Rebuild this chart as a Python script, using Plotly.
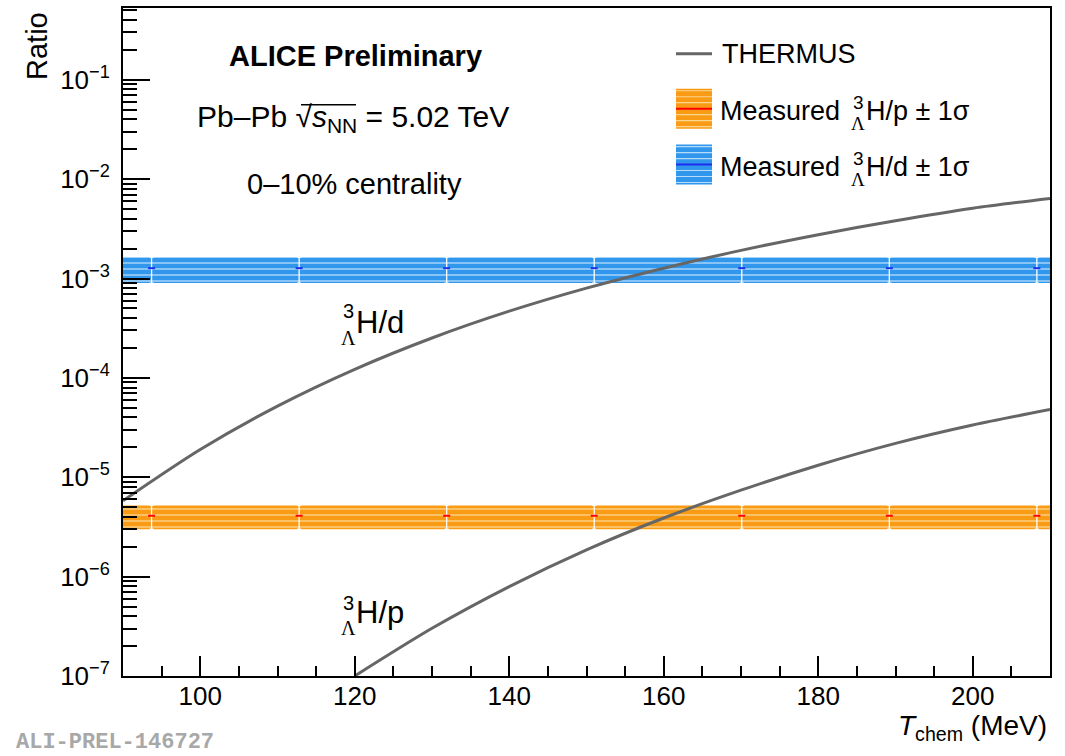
import plotly.graph_objects as go

# THERMUS predictions of the hypertriton ratios versus chemical freeze-out temperature
t_thermus_hd = [90, 100, 110, 120, 130, 140, 150, 160, 170, 180, 190, 200, 210]
ratio_thermus_hd = [5.8e-6, 1.9e-5, 5.2e-5, 1.22e-4, 2.52e-4, 4.69e-4, 8.0e-4,
                    1.27e-3, 1.92e-3, 2.76e-3, 3.82e-3, 5.1e-3, 6.4e-3]

t_thermus_hp = [120, 130, 140, 150, 160, 170, 180, 190, 200, 210]
ratio_thermus_hp = [1.0e-7, 3.02e-7, 7.94e-7, 1.86e-6, 3.89e-6, 7.41e-6,
                    1.32e-5, 2.19e-5, 3.35e-5, 4.8e-5]

# Measured ratios (drawn as horizontal +-1 sigma bands)
t_points = [93.7, 112.8, 131.9, 151.0, 170.1, 189.2, 208.3]
half_bin = 9.55
hp_measured, hp_sigma = 4.1e-6, 1.1e-6
hd_measured, hd_sigma = 1.27e-3, 0.37e-3

y_tick_vals = [1e-7, 1e-6, 1e-5, 1e-4, 1e-3, 1e-2, 1e-1]
y_tick_text = ["10<sup>\u22127</sup>", "10<sup>\u22126</sup>", "10<sup>\u22125</sup>",
               "10<sup>\u22124</sup>", "10<sup>\u22123</sup>", "10<sup>\u22122</sup>",
               "10<sup>\u22121</sup>"]
x_tick_vals = [100, 120, 140, 160, 180, 200]

FONT = "Liberation Sans, Arial, Helvetica, sans-serif"
SERIF = "Liberation Serif, Times New Roman, serif"
GREY = "#666666"
ORANGE, ORANGE_LIGHT, RED = "#F99B14", "#FCD58F", "#FF0000"
BLUE, BLUE_LIGHT, DARKBLUE = "#3197EC", "#B5DBFA", "#1E2EF0"

W, H = 1065, 756
L, R, T, B = 123, 15, 6, 80
PW, PH = W - L - R, H - T - B


def px(x):
    return (x - L) / PW


def py(y):
    return (H - B - y) / PH


fig = go.Figure()


def band(value, sigma, bg, fg, marker_color):
    x0 = t_points[0] - half_bin
    x1 = t_points[-1] + half_bin
    lo, hi = value - sigma, value + sigma
    fig.add_trace(go.Scatter(
        x=[x0, x1, x1, x0, x0], y=[lo, lo, hi, hi, lo],
        mode="lines", fill="toself", line=dict(width=0, color=bg),
        fillcolor=bg,
        fillpattern=dict(shape="-", bgcolor=bg, fgcolor=fg, size=6,
                         solidity=0.22, fillmode="replace"),
        hoverinfo="skip", showlegend=False))
    fig.add_trace(go.Scatter(
        x=t_points, y=[value] * len(t_points), mode="markers",
        marker=dict(symbol="line-ew", size=5,
                    line=dict(color=marker_color, width=2)),
        error_y=dict(type="data", array=[sigma] * len(t_points),
                     color="white", thickness=1.3, width=2),
        hoverinfo="skip", showlegend=False))


band(hd_measured, hd_sigma, BLUE, BLUE_LIGHT, DARKBLUE)
band(hp_measured, hp_sigma, ORANGE, ORANGE_LIGHT, RED)

for tt, rr in ((t_thermus_hd, ratio_thermus_hd), (t_thermus_hp, ratio_thermus_hp)):
    fig.add_trace(go.Scatter(x=tt, y=rr, mode="lines",
                             line=dict(color=GREY, width=3, shape="spline", smoothing=0.8),
                             hoverinfo="skip", showlegend=False))

annotations = []


def text(x, y, s, size, anchor="left", family=FONT, color="black", angle=0, yanchor="middle"):
    annotations.append(dict(x=px(x), y=py(y), xref="paper", yref="paper", text=s,
                            showarrow=False, xanchor=anchor, yanchor=yanchor,
                            textangle=angle,
                            font=dict(size=size, family=family, color=color)))


def hyper(x, y_sup, y_sub, size):
    # stacked "3" over "Lambda" in front of the H
    text(x, y_sup, "3", size, anchor="center")
    text(x, y_sub, "\u039b", size, anchor="center", family=SERIF)


text(355, 54, "<b>ALICE Preliminary</b>", 29, anchor="center")
text(353, 117, "Pb\u2013Pb \u221a<i>s</i><sub>NN</sub> = 5.02 TeV", 30, anchor="center")
text(354, 183, "0\u201310% centrality", 29, anchor="center")

# legend
text(720, 52, "THERMUS", 27)
for row, lab in enumerate(("p", "d")):
    yc = 109 + 56 * row
    text(718, yc, "Measured", 27)
    hyper(858, yc - 8, yc + 13, 19)
    text(864, yc, "H/" + lab + " \u00b1 1\u03c3", 27)

# curve labels
hyper(348, 310, 337, 20)
text(354, 321, "H/d", 31)
hyper(348, 603, 628, 20)
text(354, 612, "H/p", 31)

# axis titles
text(37, 8, "Ratio", 29, anchor="center", angle=-90, yanchor="top")
text(1049, 728, "<i>T</i><sub>chem</sub> (MeV)", 28, anchor="right")
text(14, 743, "<b>ALI-PREL-146727</b>", 22, family="Liberation Mono, Courier New, monospace",
     color="#A8A8A8")

shapes = [
    dict(type="line", xref="paper", yref="paper", x0=px(676), x1=px(712),
         y0=py(52), y1=py(52), line=dict(color=GREY, width=3)),
    # bar over the radicand
    dict(type="line", xref="paper", yref="paper", x0=px(301), x1=px(356),
         y0=py(103), y1=py(103), line=dict(color="black", width=1.5)),
]
for row, (bg, fg, mid) in enumerate(((ORANGE, ORANGE_LIGHT, RED),
                                     (BLUE, BLUE_LIGHT, DARKBLUE))):
    top = 87 + 56 * row
    shapes.append(dict(type="rect", xref="paper", yref="paper", x0=px(676), x1=px(712),
                       y0=py(top + 40), y1=py(top), fillcolor=bg, line=dict(width=0)))
    for k in range(7):
        yy = top + 2 + 6 * k
        if abs(yy - (top + 20)) < 2:
            continue
        shapes.append(dict(type="line", xref="paper", yref="paper", x0=px(676), x1=px(712),
                           y0=py(yy), y1=py(yy), line=dict(color=fg, width=1.2)))
    shapes.append(dict(type="line", xref="paper", yref="paper", x0=px(676), x1=px(712),
                       y0=py(top + 20), y1=py(top + 20), line=dict(color=mid, width=2)))

y_minor = [m * 10.0 ** e for e in range(-7, 0) for m in range(2, 10)]

fig.update_layout(
    width=W, height=H,
    margin=dict(l=L, r=R, t=T, b=B),
    paper_bgcolor="white", plot_bgcolor="white",
    font=dict(family=FONT, color="black"),
    annotations=annotations, shapes=shapes,
    xaxis=dict(range=[90, 210], showgrid=False, zeroline=False,
               showline=True, mirror=True, linecolor="black", linewidth=2,
               ticks="inside", tickvals=x_tick_vals, ticklen=20, tickwidth=1.5,
               tickcolor="black", tickfont=dict(size=26), ticklabelstandoff=-4,
               minor=dict(ticks="inside", dtick=5, tick0=0, ticklen=10,
                          tickwidth=1.5, tickcolor="black", showgrid=False)),
    yaxis=dict(type="log", range=[-7, -0.278], showgrid=False, zeroline=False,
               showline=True, mirror=True, linecolor="black", linewidth=2,
               ticks="inside", tickvals=y_tick_vals, ticktext=y_tick_text,
               ticklen=27, tickwidth=1.5, tickcolor="black",
               tickfont=dict(size=26), ticklabelstandoff=6,
               minor=dict(ticks="inside", tickvals=y_minor, ticklen=14,
                          tickwidth=1.5, tickcolor="black", showgrid=False)),
)

fig.write_html("out.html")
